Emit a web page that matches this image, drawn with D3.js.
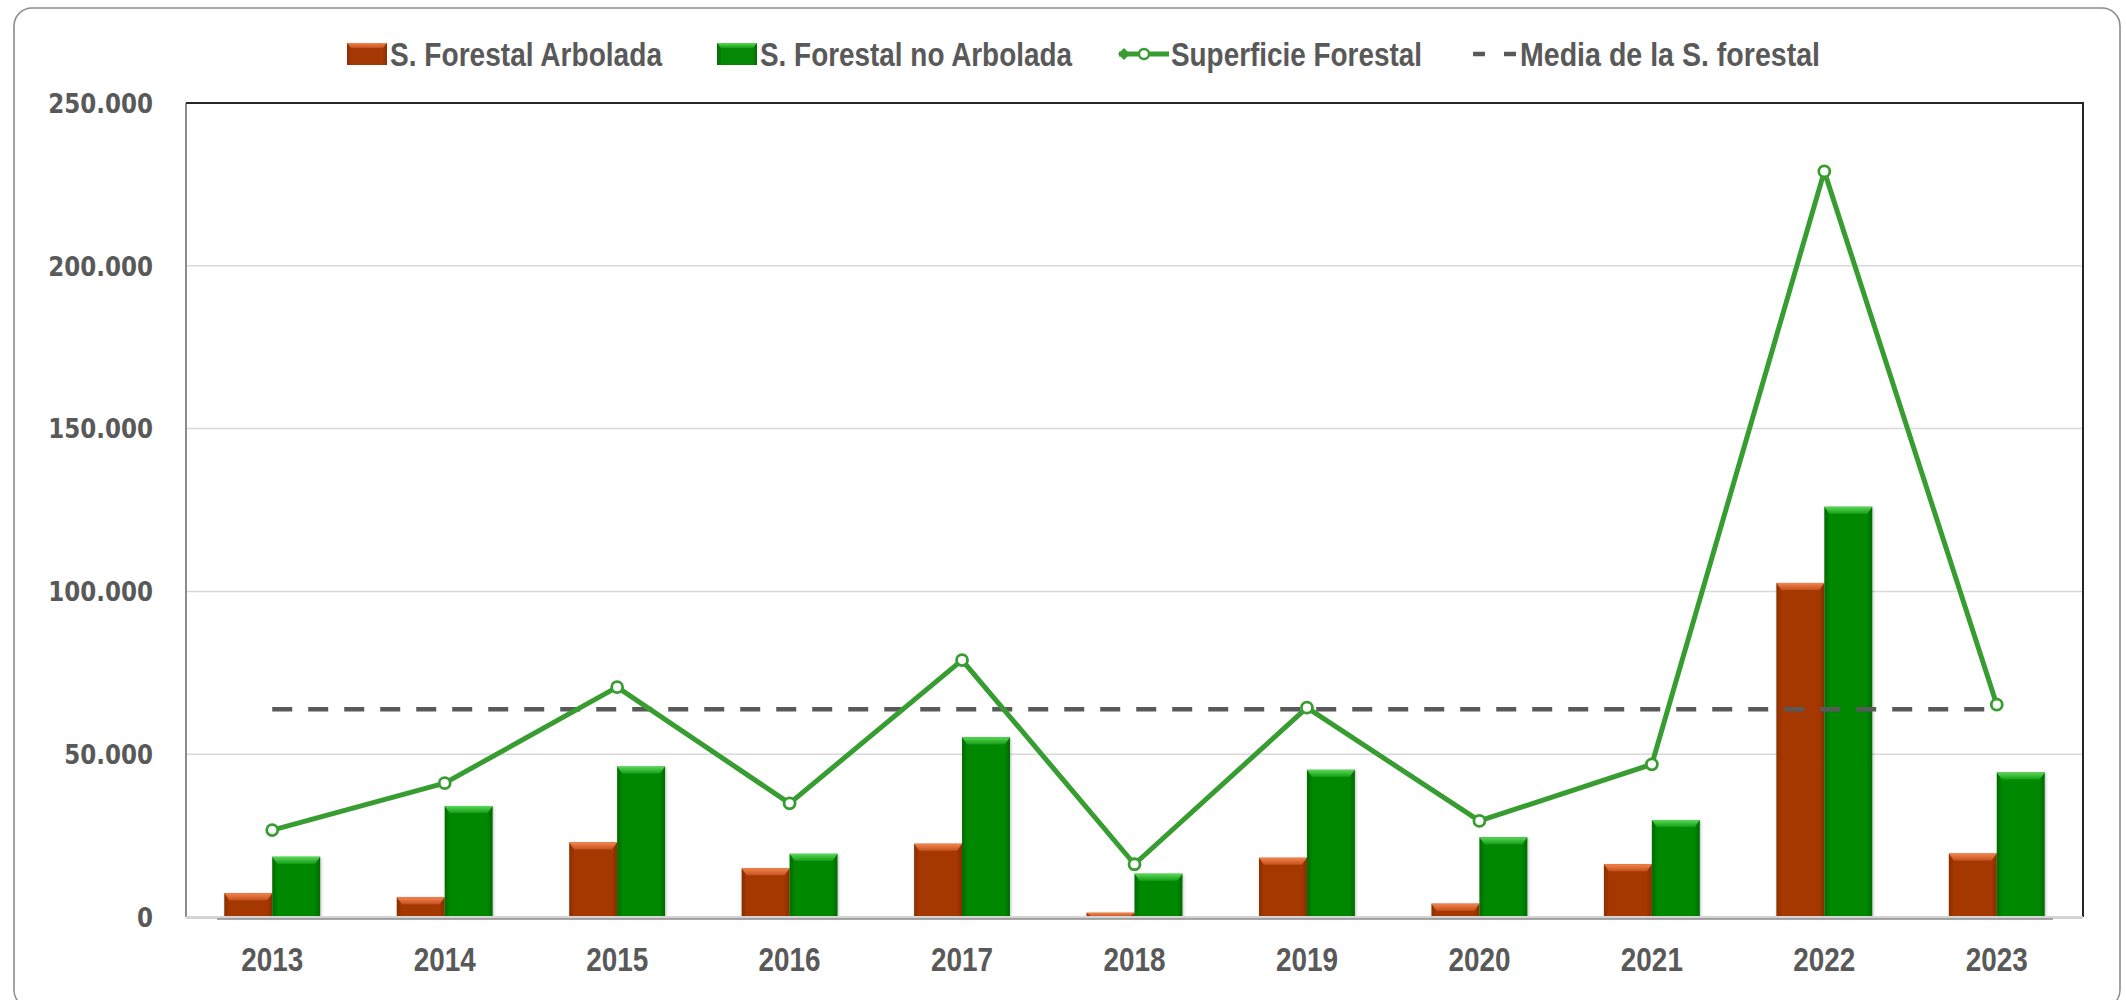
<!DOCTYPE html>
<html><head><meta charset="utf-8">
<script src="https://cdn.jsdelivr.net/npm/d3@7"></script>
<style>body{margin:0;background:#fff}svg{display:block}</style>
</head><body>
<script>
const years = ["2013","2014","2015","2016","2017","2018","2019","2020","2021","2022","2023"];
const arbolada = [7300, 6050, 22900, 14950, 22500, 1300, 18200, 4100, 16200, 102600, 19500];
const noArbolada = [18500, 34100, 46200, 19400, 55200, 13300, 45200, 24500, 29800, 126000, 44400];
const superficie = [26700, 41100, 70600, 34900, 78900, 16200, 64300, 29500, 46900, 229000, 65200];
const media = [63800];
const yTicks = [0, 50000, 100000, 150000, 200000, 250000];
const legendLabels = ["S. Forestal Arbolada", "S. Forestal no Arbolada", "Superficie Forestal", "Media de la S. forestal"];

const W = 2126, H = 1000;
const M = {left: 186, right: 2083, top: 103, bottom: 917};
const svg = d3.select("body").append("svg").attr("width", W).attr("height", H);
const defs = svg.append("defs");
const txt = "#595959";
const sans = "'Liberation Sans','Open Sans',sans-serif";

svg.append("rect").attr("x", 14).attr("y", 8).attr("width", 2106).attr("height", 1000)
  .attr("rx", 18).attr("fill", "#fff").attr("stroke", "#8c8c8c").attr("stroke-width", 1.6);

const x = d3.scaleBand().domain(years).range([M.left, M.right]).padding(0);
const y = d3.scaleLinear().domain([0, 250000]).range([M.bottom, M.top]);
const bw = x.bandwidth();
const xs = d3.scaleBand().domain(["a","n"]).range([bw * 0.222, bw * 0.778]).padding(0);

function sideGrad(id, edge, mid) {
  const g = defs.append("linearGradient").attr("id", id).attr("x1", 0).attr("x2", 1).attr("y1", 0).attr("y2", 0);
  g.append("stop").attr("offset", "0%").attr("stop-color", edge);
  g.append("stop").attr("offset", "12%").attr("stop-color", mid);
  g.append("stop").attr("offset", "88%").attr("stop-color", mid);
  g.append("stop").attr("offset", "100%").attr("stop-color", edge);
}
function topGrad(id, c1, c2) {
  const g = defs.append("linearGradient").attr("id", id).attr("x1", 0).attr("x2", 0).attr("y1", 0).attr("y2", 1);
  g.append("stop").attr("offset", "0%").attr("stop-color", c1);
  g.append("stop").attr("offset", "100%").attr("stop-color", c2);
}
sideGrad("sideA", "#8a2e04", "#a53906");
sideGrad("sideN", "#046a04", "#058805");
topGrad("topA", "#f4834c", "#c4521f");
topGrad("topN", "#5ad85a", "#15a015");
const f = defs.append("filter").attr("id", "sh").attr("x", "-20%").attr("y", "-20%").attr("width", "140%").attr("height", "140%");
f.append("feDropShadow").attr("dx", 1).attr("dy", 1).attr("stdDeviation", 1.6).attr("flood-color", "#000").attr("flood-opacity", 0.25);

svg.append("g").selectAll("line").data(yTicks.filter(t => t > 0 && t < 250000)).join("line")
  .attr("x1", M.left).attr("x2", M.right).attr("y1", d => y(d)).attr("y2", d => y(d))
  .attr("stroke", "#d9d9d9").attr("stroke-width", 1.5);

function squeeze(sel, factor) {
  sel.each(function() {
    const L = this.getComputedTextLength();
    d3.select(this).attr("textLength", L * factor).attr("lengthAdjust", "spacingAndGlyphs");
  });
}

const yAxis = d3.axisLeft(y).tickValues(yTicks).tickSize(0).tickPadding(0)
  .tickFormat(d => d3.format(",")(d).replace(/,/g, "."));
const ya = svg.append("g").attr("transform", `translate(${M.left - 33},0)`).call(yAxis);
ya.select(".domain").remove();
ya.selectAll("text").attr("font-family", "'DejaVu Sans',sans-serif").attr("font-weight", "bold")
  .attr("font-size", 26).attr("fill", txt).attr("dy", "0.36em");
squeeze(ya.selectAll("text"), 0.885);

const data = years.map((yr, i) => ({yr, vals: [{k: "a", v: arbolada[i]}, {k: "n", v: noArbolada[i]}]}));
const gb = svg.append("g");
const groups = gb.selectAll("g").data(data).join("g").attr("transform", d => `translate(${x(d.yr)},0)`);
const bars = groups.selectAll("g").data(d => d.vals).join("g").attr("filter", "url(#sh)");
bars.append("rect").attr("x", d => xs(d.k)).attr("width", xs.bandwidth())
  .attr("y", d => y(d.v)).attr("height", d => y(0) - y(d.v))
  .attr("fill", d => d.k === "a" ? "url(#sideA)" : "url(#sideN)");
bars.append("path").attr("d", d => {
  const x0 = xs(d.k), x1 = x0 + xs.bandwidth(), t = y(d.v), h = Math.min(7, y(0) - y(d.v));
  return `M${x0},${t}L${x1},${t}L${x1 - 5},${t + h}L${x0 + 5},${t + h}Z`;
}).attr("fill", d => d.k === "a" ? "url(#topA)" : "url(#topN)");

svg.append("line").attr("x1", M.left).attr("x2", M.left).attr("y1", M.top).attr("y2", M.bottom)
  .attr("stroke", "#8c8c8c").attr("stroke-width", 2);
svg.append("path").attr("d", `M${M.left},${M.top}H${M.right}V${M.bottom}`).attr("fill", "none")
  .attr("stroke", "#262626").attr("stroke-width", 2);
svg.append("line").attr("x1", M.left).attr("x2", M.right).attr("y1", M.bottom + 0.5).attr("y2", M.bottom + 0.5)
  .attr("stroke", "#d4d4d4").attr("stroke-width", 3);
svg.append("line").attr("x1", M.left + 31).attr("x2", M.right - 30).attr("y1", M.bottom + 2).attr("y2", M.bottom + 2)
  .attr("stroke", "#8c8c8c").attr("stroke-width", 1.5);

const xAxis = d3.axisBottom(x).tickSize(0).tickPadding(0);
const xa = svg.append("g").attr("transform", `translate(0,${M.bottom + 30})`).call(xAxis);
xa.select(".domain").remove();
xa.selectAll("text").attr("font-family", sans).attr("font-weight", "bold").attr("font-size", 34)
  .attr("fill", txt).attr("dy", "0.71em");
squeeze(xa.selectAll("text"), 0.82);

const cx = d => x(d) + bw / 2;
svg.append("line").attr("x1", cx(years[0])).attr("x2", cx(years[years.length - 1]))
  .attr("y1", y(media[0])).attr("y2", y(media[0]))
  .attr("stroke", "#595959").attr("stroke-width", 4.5).attr("stroke-dasharray", "20 16");

const lineGreen = "#379d31";
const line = d3.line().x((d, i) => cx(years[i])).y(d => y(d));
svg.append("path").attr("d", line(superficie)).attr("fill", "none").attr("stroke", lineGreen)
  .attr("stroke-width", 5).attr("stroke-linejoin", "round");
svg.append("g").selectAll("circle").data(superficie).join("circle")
  .attr("cx", (d, i) => cx(years[i])).attr("cy", d => y(d)).attr("r", 5.5)
  .attr("fill", "#fff").attr("stroke", lineGreen).attr("stroke-width", 2.8);

const ly = 54;
const lg = svg.append("g").attr("font-family", sans).attr("font-weight", "bold").attr("font-size", 33).attr("fill", txt);
function swatch(x0, side, top) {
  lg.append("rect").attr("x", x0).attr("y", ly - 11).attr("width", 40).attr("height", 22).attr("fill", side);
  lg.append("path").attr("d", `M${x0},${ly - 11}H${x0 + 40}L${x0 + 36},${ly - 6}H${x0 + 4}Z`).attr("fill", top);
}
swatch(347, "url(#sideA)", "url(#topA)");
swatch(717, "url(#sideN)", "url(#topN)");
lg.append("line").attr("x1", 1119).attr("x2", 1169).attr("y1", ly).attr("y2", ly).attr("stroke", lineGreen).attr("stroke-width", 5);
lg.append("path").attr("d", `M1118,${ly}l6,-6l6,6l-6,6Z`).attr("fill", lineGreen);
lg.append("circle").attr("cx", 1144).attr("cy", ly).attr("r", 5).attr("fill", "#fff").attr("stroke", lineGreen).attr("stroke-width", 2.5);
lg.append("line").attr("x1", 1473).attr("x2", 1519).attr("y1", ly).attr("y2", ly).attr("stroke", "#595959")
  .attr("stroke-width", 4.5).attr("stroke-dasharray", "12 19");
const lx = [390, 760, 1171, 1520];
const lw = [272, 312, 251, 300];
lg.selectAll("text").data(legendLabels).join("text").attr("x", (d, i) => lx[i]).attr("y", ly).attr("dy", "0.36em")
  .attr("textLength", (d, i) => lw[i]).attr("lengthAdjust", "spacingAndGlyphs").text(d => d);
</script>
</body></html>
